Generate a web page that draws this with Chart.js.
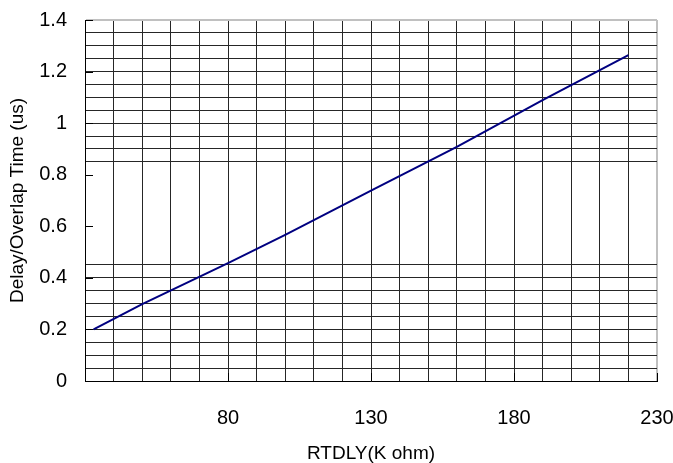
<!DOCTYPE html>
<html>
<head>
<meta charset="utf-8">
<script src="https://cdn.jsdelivr.net/npm/chart.js@4/dist/chart.umd.min.js"></script>
<style>
    body { margin: 0; background: #fff; }
    #wrap { width: 673px; height: 463px; }
</style>
</head>
<body>
<div id="wrap"><canvas id="chart" width="673" height="463"></canvas></div>
<script>
// RTDLY (K ohm) vs delay/overlap time (us)
var rtdly = [33, 50, 80, 100, 130, 160, 190, 220];
var delay_us = [0.2, 0.298, 0.457, 0.567, 0.738, 0.908, 1.089, 1.264];

var x_min = 30, x_max = 230, x_grid_step = 10, x_label_step = 50;
var y_min = 0, y_max = 1.4, y_grid_step = 0.05, y_label_step = 0.2;
// the original has no horizontal grid lines between these two values
var y_gap_from = 0.5, y_gap_to = 0.8;

var _font = "'Liberation Sans', Arial, sans-serif";
var _grid_color = '#262626';

var _is_step = function(v, start, step) {
    var k = (v - start) / step;
    return Math.abs(k - Math.round(k)) < 1e-6;
};

// short tick marks on the inner side of both axes
var inner_ticks = {
    id: 'inner_ticks',
    afterDatasetsDraw: function(chart) {
        var ctx = chart.ctx, area = chart.chartArea;
        var xs = chart.scales.x, ys = chart.scales.y;
        ctx.save();
        ctx.strokeStyle = '#000';
        ctx.lineWidth = 1;
        ctx.beginPath();
        ys.ticks.forEach(function(t) {
            if (_is_step(t.value, y_min, y_label_step)) {
                var py = Math.round(ys.getPixelForValue(t.value)) + 0.5;
                ctx.moveTo(area.left, py);
                ctx.lineTo(area.left + 8, py);
            }
        });
        xs.ticks.forEach(function(t) {
            if (_is_step(t.value, x_min, x_label_step)) {
                var px = Math.round(xs.getPixelForValue(t.value)) + 0.5;
                ctx.moveTo(px, area.bottom);
                ctx.lineTo(px, area.bottom - 8);
            }
        });
        ctx.stroke();
        ctx.restore();
    }
};

var points = rtdly.map(function(x, i) {
    return {x: x, y: delay_us[i]};
});

new Chart(document.getElementById('chart').getContext('2d'), {
    type: 'line',
    data: {
        datasets: [{
            data: points,
            borderColor: '#000080',
            borderWidth: 2,
            pointRadius: 0,
            tension: 0,
            fill: false
        }]
    },
    options: {
        responsive: false,
        animation: false,
        layout: {padding: {top: 20, right: 16, left: 0, bottom: 0}},
        plugins: {
            legend: {display: false},
            tooltip: {enabled: false}
        },
        scales: {
            x: {
                type: 'linear',
                min: x_min,
                max: x_max,
                afterFit: function(scale) {
                    scale.height = 82;
                    scale.paddingLeft = 0;
                    scale.paddingRight = 0;
                },
                border: {display: true, color: '#000', width: 1},
                grid: {
                    drawTicks: false,
                    color: function(c) {
                        return c.tick && c.tick.value === x_max ? '#c0c0c0' : _grid_color;
                    },
                    lineWidth: function(c) {
                        return c.tick && c.tick.value === x_max ? 2 : 1;
                    }
                },
                ticks: {
                    stepSize: x_grid_step,
                    autoSkip: false,
                    maxRotation: 0,
                    padding: 25,
                    color: '#000',
                    font: {family: _font, size: 20},
                    callback: function(v) {
                        if (v === x_min || !_is_step(v, x_min, x_label_step)) {
                            return '';
                        }
                        return String(v);
                    }
                },
                title: {
                    display: true,
                    text: 'RTDLY(K ohm)',
                    color: '#000',
                    font: {family: _font, size: 19, lineHeight: 1},
                    padding: {top: 0, bottom: 0}
                }
            },
            y: {
                min: y_min,
                max: y_max,
                afterFit: function(scale) {
                    scale.width = 85;
                    scale.paddingTop = 0;
                    scale.paddingBottom = 0;
                },
                border: {display: true, color: '#000', width: 1},
                grid: {
                    drawTicks: false,
                    color: function(c) {
                        if (!c.tick) return _grid_color;
                        var v = c.tick.value;
                        if (Math.abs(v - y_max) < 1e-6) return '#c0c0c0';
                        if (v > y_gap_from - 1e-6 && v < y_gap_to + 1e-6) return 'rgba(0,0,0,0)';
                        return _grid_color;
                    },
                    lineWidth: function(c) {
                        return c.tick && Math.abs(c.tick.value - y_max) < 1e-6 ? 2 : 1;
                    }
                },
                ticks: {
                    stepSize: y_grid_step,
                    autoSkip: false,
                    padding: 18,
                    color: '#000',
                    font: {family: _font, size: 20},
                    callback: function(v) {
                        if (!_is_step(v, y_min, y_label_step)) {
                            return '';
                        }
                        return String(Math.round(v * 10) / 10);
                    }
                },
                title: {
                    display: true,
                    text: 'Delay/Overlap Time (us)',
                    color: '#000',
                    font: {family: _font, size: 19, lineHeight: 1},
                    padding: {top: 8, bottom: 0}
                }
            }
        }
    },
    plugins: [inner_ticks]
});
</script>
</body>
</html>
